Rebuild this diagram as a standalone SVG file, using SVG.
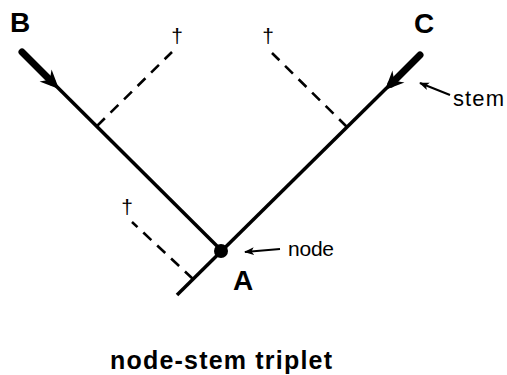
<svg xmlns="http://www.w3.org/2000/svg" width="507" height="375" viewBox="0 0 507 375">
<style>
.main{stroke:#000;stroke-width:3.5;fill:none;stroke-linecap:butt}
.stem{stroke:#000;stroke-width:7;fill:none;stroke-linecap:round}
.dash{stroke:#000;stroke-width:2.6;fill:none;stroke-dasharray:11 8}
.thin{stroke:#000;stroke-width:2;fill:none}
.lbl{font-family:"Liberation Sans",Arial,sans-serif;font-weight:bold;fill:#000}
.txt{font-family:"Liberation Sans",Arial,sans-serif;fill:#000}
.dag{font-family:"Liberation Sans",Arial,sans-serif;fill:#000;font-size:21px}
</style>
<defs>
<polygon id="ah" points="0,0 -19,-8.5 -13,0 -19,8.5" fill="#000"/>
<marker id="sm" viewBox="0 0 10 10" refX="9" refY="5" markerWidth="5" markerHeight="5" orient="auto" markerUnits="strokeWidth">
<path d="M0,1 L10,5 L0,9 L2.5,5 Z" fill="#000"/>
</marker>
</defs>
<g id="connectors">
<line class="main" x1="22" y1="52" x2="221" y2="250"/>
<line class="main" x1="420" y1="55" x2="177" y2="295"/>
<line class="stem" x1="22" y1="52" x2="52" y2="82"/>
<line class="stem" x1="420" y1="55" x2="391" y2="84"/>
<use href="#ah" transform="translate(59,89) rotate(45)"/>
<use href="#ah" transform="translate(385,90) rotate(135)"/>
<line class="dash" x1="97" y1="126" x2="172" y2="52"/>
<line class="dash" x1="347" y1="127" x2="272" y2="53"/>
<line class="dash" x1="193" y1="279" x2="132" y2="222"/>
<line class="thin" x1="450" y1="95" x2="420" y2="83" marker-end="url(#sm)"/>
<line class="thin" x1="280" y1="249" x2="245" y2="252" marker-end="url(#sm)"/>
</g>
<g id="node-A">
<circle cx="221" cy="251" r="7" fill="#000"/>
<text class="lbl" x="233" y="290" font-size="28">A</text>
<text class="txt" x="288" y="256" font-size="21" textLength="46" lengthAdjust="spacing">node</text>
</g>
<g id="node-B">
<text class="lbl" x="10" y="32" font-size="28">B</text>
</g>
<g id="node-C">
<text class="lbl" x="414" y="33" font-size="28">C</text>
<text class="txt" x="453" y="106" font-size="22" textLength="51" lengthAdjust="spacing">stem</text>
</g>
<g id="extinct">
<text class="dag" x="177" y="43" text-anchor="middle">†</text>
<text class="dag" x="268" y="43" text-anchor="middle">†</text>
<text class="dag" x="127" y="214" text-anchor="middle">†</text>
</g>
<g id="title">
<text class="lbl" x="110" y="369" font-size="25" textLength="222" lengthAdjust="spacing">node-stem triplet</text>
</g>
</svg>
